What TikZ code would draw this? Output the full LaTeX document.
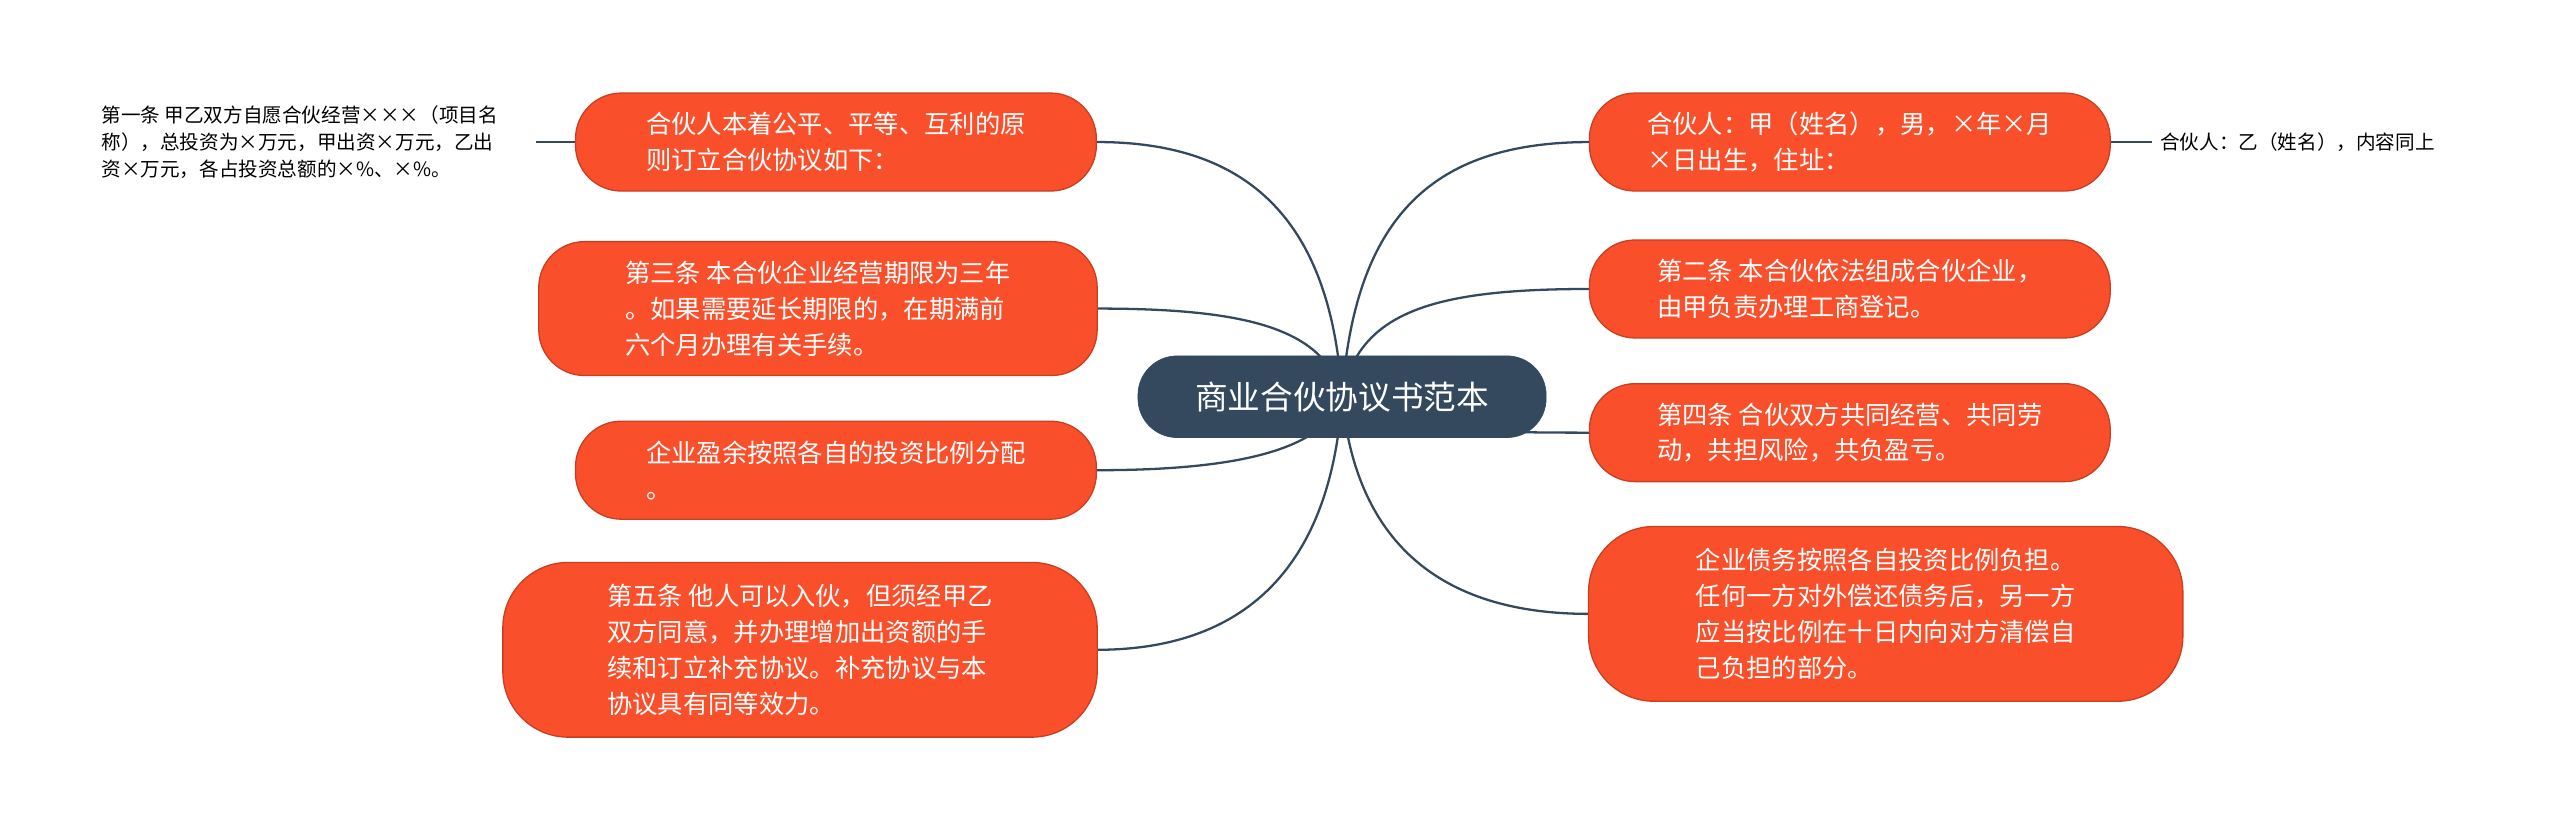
\documentclass[tikz,border=0pt]{standalone}
\usepackage{fontspec}
\setmainfont{Noto Sans CJK SC}
\begin{document}
\begin{tikzpicture}[x=1pt,y=-1pt,
 leaf/.style={draw=#1!80!black,fill=#1,rounded corners=28pt,text=white,font=\fontsize{15.5}{22}\selectfont,align=left,inner sep=0pt,line width=0.8pt},
 leaf/.default=ocol,
 conn/.style={draw=dcol,line width=1.4pt},
 small/.style={font=\fontsize{12}{16.5}\selectfont,align=left,inner sep=0pt,anchor=west}]
\definecolor{ocol}{HTML}{FA4F2B}
\definecolor{dcol}{HTML}{34495E}
\useasboundingbox (0,0) rectangle (1568,508);
\coordinate (c) at (822,243);
% connectors drawn first
\coordinate (l1) at (672,87); \coordinate (l2) at (672,189); \coordinate (l3) at (672,288); \coordinate (l4) at (672,398);
\coordinate (r1) at (974,87); \coordinate (r2) at (974,177); \coordinate (r3) at (974,265); \coordinate (r4) at (973,376);
\draw[conn] (c) .. controls (815,130) and (760,87) .. (l1);
\draw[conn] (c) .. controls (812,200) and (760,189) .. (l2);
\draw[conn] (c) .. controls (812,275) and (760,288) .. (l3);
\draw[conn] (c) .. controls (815,350) and (760,398) .. (l4);
\draw[conn] (c) .. controls (830,130) and (880,87) .. (r1);
\draw[conn] (c) .. controls (832,190) and (880,177) .. (r2);
\draw[conn] (c) .. controls (832,262) and (880,265) .. (r3);
\draw[conn] (c) .. controls (830,330) and (880,376) .. (r4);
\node[fill=dcol,draw=dcol,rounded corners=24pt,minimum width=250pt,minimum height=50pt,text=white,font=\fontsize{20}{24}\selectfont] (center) at (c) {商业合伙协议书范本};
\node[leaf,minimum width=319pt,minimum height=60pt] (L1) at (512,87) {合伙人本着公平、平等、互利的原\\则订立合伙协议如下：};
\node[leaf,minimum width=342pt,minimum height=82pt] (L2) at (501,189) {第三条 本合伙企业经营期限为三年\\。如果需要延长期限的，在期满前\\六个月办理有关手续。};
\node[leaf,minimum width=319pt,minimum height=60pt] (L3) at (512,288) {企业盈余按照各自的投资比例分配\\。};
\node[leaf,minimum width=364pt,minimum height=107pt,rounded corners=40pt] (L4) at (490,398) {第五条 他人可以入伙，但须经甲乙\\双方同意，并办理增加出资额的手\\续和订立补充协议。补充协议与本\\协议具有同等效力。};
\node[leaf,minimum width=319pt,minimum height=60pt] (R1) at (1133,87) {合伙人：甲（姓名），男，×年×月\\×日出生，住址：};
\node[leaf,minimum width=319pt,minimum height=60pt] (R2) at (1133,177) {第二条 本合伙依法组成合伙企业，\\由甲负责办理工商登记。};
\node[leaf,minimum width=319pt,minimum height=60pt] (R3) at (1133,265) {第四条 合伙双方共同经营、共同劳\\动，共担风险，共负盈亏。};
\node[leaf,minimum width=364pt,minimum height=107pt,rounded corners=40pt] (R4) at (1155,376) {企业债务按照各自投资比例负担。\\任何一方对外偿还债务后，另一方\\应当按比例在十日内向对方清偿自\\己负担的部分。};
\node[small] (FL) at (62,87) {第一条 甲乙双方自愿合伙经营×××（项目名\\称），总投资为×万元，甲出资×万元，乙出\\资×万元，各占投资总额的×\%、×\%。};
\node[small] (FR) at (1323,87) {合伙人：乙（姓名），内容同上};
\coordinate (fl) at (328,87); \coordinate (fr) at (1318,87);
\draw[conn] (L1.west) -- (fl);
\draw[conn] (R1.east) -- (fr);
\end{tikzpicture}
\end{document}
